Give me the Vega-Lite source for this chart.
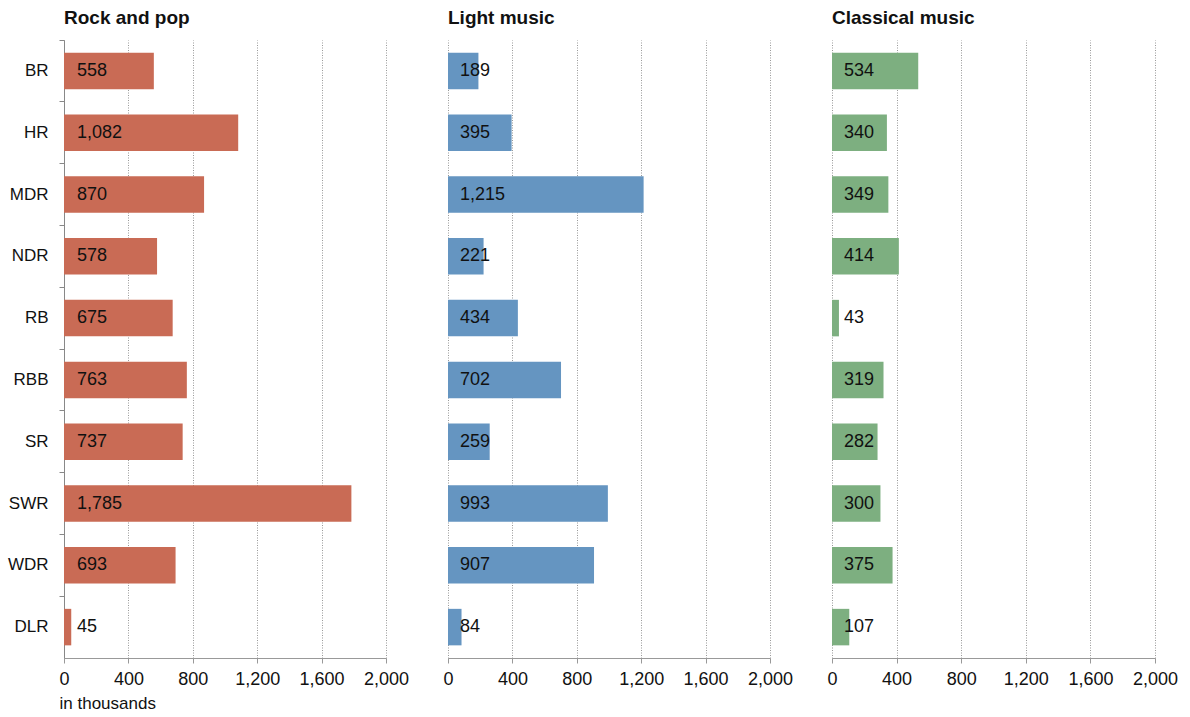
{
  "$schema": "https://vega.github.io/schema/vega-lite/v6.json",
  "background": "white",
  "padding": {"left": 7, "top": 8, "right": 5, "bottom": 5},
  "bounds": "flush",
  "spacing": 62,
  "config": {
    "font": "Liberation Sans",
    "view": {"stroke": null},
    "title": {"anchor": "start", "frame": "group", "fontSize": 19, "fontWeight": "bold", "color": "#111", "offset": 12},
    "axisX": {
      "grid": true,
      "gridDash": [1, 1.5],
      "gridColor": "#999999",
      "domainColor": "#999999",
      "tickColor": "#999999",
      "tickSize": 5,
      "labelFontSize": 18,
      "labelColor": "#111",
      "labelPadding": 7,
      "labelFlush": false
    }
  },
  "datasets": {
    "d": [
      {"region": "BR", "genre": "Rock and pop", "value": 558},
      {"region": "HR", "genre": "Rock and pop", "value": 1082},
      {"region": "MDR", "genre": "Rock and pop", "value": 870},
      {"region": "NDR", "genre": "Rock and pop", "value": 578},
      {"region": "RB", "genre": "Rock and pop", "value": 675},
      {"region": "RBB", "genre": "Rock and pop", "value": 763},
      {"region": "SR", "genre": "Rock and pop", "value": 737},
      {"region": "SWR", "genre": "Rock and pop", "value": 1785},
      {"region": "WDR", "genre": "Rock and pop", "value": 693},
      {"region": "DLR", "genre": "Rock and pop", "value": 45},
      {"region": "BR", "genre": "Light music", "value": 189},
      {"region": "HR", "genre": "Light music", "value": 395},
      {"region": "MDR", "genre": "Light music", "value": 1215},
      {"region": "NDR", "genre": "Light music", "value": 221},
      {"region": "RB", "genre": "Light music", "value": 434},
      {"region": "RBB", "genre": "Light music", "value": 702},
      {"region": "SR", "genre": "Light music", "value": 259},
      {"region": "SWR", "genre": "Light music", "value": 993},
      {"region": "WDR", "genre": "Light music", "value": 907},
      {"region": "DLR", "genre": "Light music", "value": 84},
      {"region": "BR", "genre": "Classical music", "value": 534},
      {"region": "HR", "genre": "Classical music", "value": 340},
      {"region": "MDR", "genre": "Classical music", "value": 349},
      {"region": "NDR", "genre": "Classical music", "value": 414},
      {"region": "RB", "genre": "Classical music", "value": 43},
      {"region": "RBB", "genre": "Classical music", "value": 319},
      {"region": "SR", "genre": "Classical music", "value": 282},
      {"region": "SWR", "genre": "Classical music", "value": 300},
      {"region": "WDR", "genre": "Classical music", "value": 375},
      {"region": "DLR", "genre": "Classical music", "value": 107}
    ]
  },
  "hconcat": [
    {
      "width": 322,
      "height": 618,
      "title": "Rock and pop",
      "data": {"name": "d"},
      "transform": [{"filter": "datum.genre === 'Rock and pop'"}],
      "encoding": {
        "y": {
          "field": "region", "type": "nominal", "sort": null,
          "scale": {"paddingInner": 0, "paddingOuter": 0},
          "axis": {"title": null, "bandPosition": 0, "domainColor": "#888888", "tickColor": "#888888", "tickSize": 5, "labelPadding": 11, "labelFontSize": 17, "labelColor": "#111", "grid": false}
        }
      },
      "layer": [
        {
          "mark": {"type": "bar", "size": 36.5, "color": "#C96B55"},
          "encoding": {
            "x": {"field": "value", "type": "quantitative", "scale": {"domain": [0, 2000]},
              "axis": {"values": [0, 400, 800, 1200, 1600, 2000], "format": ",d", "title": "in thousands", "titleAnchor": "start", "titleAlign": "left", "titleX": -5, "titleFontWeight": "normal", "titleFontSize": 17, "titleColor": "#111", "titlePadding": 7}}
          }
        },
        {
          "mark": {"type": "text", "align": "left", "dx": 13, "fontSize": 18, "color": "#111"},
          "encoding": {
            "x": {"datum": 0, "type": "quantitative"},
            "text": {"field": "value", "type": "quantitative", "format": ",d"}
          }
        }
      ]
    },
    {
      "width": 322,
      "height": 618,
      "title": "Light music",
      "data": {"name": "d"},
      "transform": [{"filter": "datum.genre === 'Light music'"}],
      "encoding": {
        "y": {"field": "region", "type": "nominal", "sort": null, "scale": {"paddingInner": 0, "paddingOuter": 0}, "axis": null}
      },
      "layer": [
        {
          "mark": {"type": "bar", "size": 36.5, "color": "#6595C1"},
          "encoding": {
            "x": {"field": "value", "type": "quantitative", "scale": {"domain": [0, 2000]}, "axis": {"values": [0, 400, 800, 1200, 1600, 2000], "format": ",d", "title": null}}
          }
        },
        {
          "mark": {"type": "text", "align": "left", "dx": 12, "fontSize": 18, "color": "#111"},
          "encoding": {
            "x": {"datum": 0, "type": "quantitative"},
            "text": {"field": "value", "type": "quantitative", "format": ",d"}
          }
        }
      ]
    },
    {
      "width": 323,
      "height": 618,
      "title": "Classical music",
      "data": {"name": "d"},
      "transform": [{"filter": "datum.genre === 'Classical music'"}],
      "encoding": {
        "y": {"field": "region", "type": "nominal", "sort": null, "scale": {"paddingInner": 0, "paddingOuter": 0}, "axis": null}
      },
      "layer": [
        {
          "mark": {"type": "bar", "size": 36.5, "color": "#7DAF80"},
          "encoding": {
            "x": {"field": "value", "type": "quantitative", "scale": {"domain": [0, 2000]}, "axis": {"values": [0, 400, 800, 1200, 1600, 2000], "format": ",d", "title": null}}
          }
        },
        {
          "mark": {"type": "text", "align": "left", "dx": 12, "fontSize": 18, "color": "#111"},
          "encoding": {
            "x": {"datum": 0, "type": "quantitative"},
            "text": {"field": "value", "type": "quantitative", "format": ",d"}
          }
        }
      ]
    }
  ]
}
